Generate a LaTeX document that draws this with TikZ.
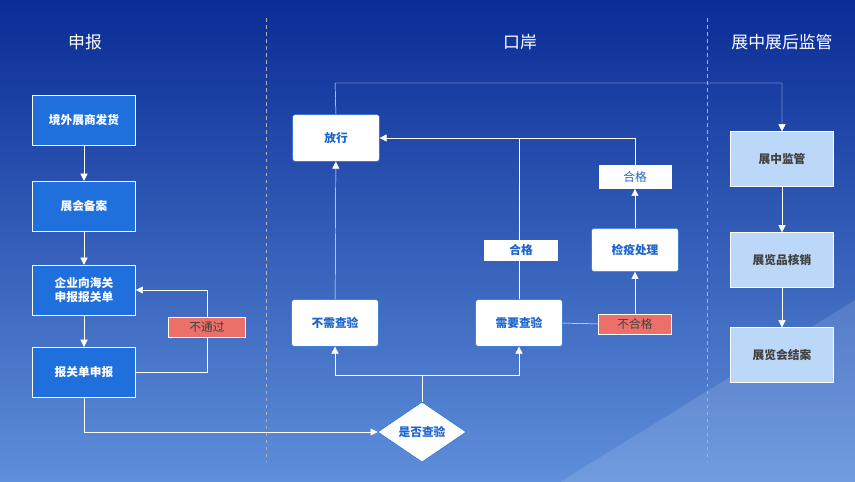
\documentclass[tikz,border=0pt]{standalone}
\usepackage{fontspec}
\setmainfont{Noto Sans CJK SC}
\usetikzlibrary{arrows.meta, positioning, shapes.geometric}
\definecolor{bgtop}{HTML}{0A2C96}
\definecolor{bgbot}{HTML}{5E8FDA}
\definecolor{stepblue}{HTML}{1F6FDC}
\definecolor{lightbox}{HTML}{BCD8F8}
\definecolor{redtag}{HTML}{EC706A}
\definecolor{textblue}{HTML}{1C64D0}

\begin{document}
\begin{tikzpicture}[x=0.03cm,y=-0.03cm,>={Triangle[length=6pt,width=6pt]},
    line/.style={draw=white, thin},
    flow/.style={line, ->}]
    \tikzstyle{stage}=[rectangle, draw=white, fill=stepblue, text=white, font=\bfseries, minimum width=3.1cm, minimum height=1.5cm, align=center, inner sep=1pt]
    \tikzstyle{port}=[rectangle, rounded corners=2pt, draw=stepblue, fill=white, text=textblue, font=\bfseries, minimum width=2.6cm, minimum height=1.4cm]
    \tikzstyle{watch}=[rectangle, draw=white, fill=lightbox, text=black!75, font=\bfseries, minimum width=3.1cm, minimum height=1.65cm]
    \tikzstyle{tag}=[rectangle, draw=white, fill=white, text=textblue, font=\normalsize, minimum width=2.2cm, minimum height=0.6cm, inner sep=0pt]
    \tikzstyle{badtag}=[tag, fill=redtag, text=black!75]
    \tikzstyle{head}=[text=white, font=\Large]

    % background
    \shade[top color=bgtop, bottom color=bgbot] (0,0) rectangle (855,482);
    \fill[white, opacity=.12] (560,482) -- (855,300) -- (855,482) -- cycle;
    \draw[gray!60, dashed] (266,18) -- (266,462);
    \draw[gray!60, dashed] (707,18) -- (707,462);

    \node[head] (h-1) at (85,42) {申报};
    \node[head] (h-2) at (520,42) {口岸};
    \node[head] (h-3) at (782,42) {展中展后监管};

    % declaration
    \node[stage] (S-1) at (84,120) {境外展商发货};
    \node[stage] (S-2) at (84,206) {展会备案};
    \node[stage] (S-3) at (84,290) {企业向海关\\申报报关单};
    \node[stage] (S-4) at (84,372) {报关单申报};
    \foreach \a/\b in {1/2,2/3,3/4}
        \draw[flow] (S-\a) -- (S-\b);
    \coordinate (c-fail) at (207,372);
    \draw[flow] (S-4.east) -- (c-fail) |- (S-3.east);
    \node[badtag, minimum width=2.3cm] (t-fail) at (207,327) {不通过};

    % port
    \node[diamond, draw=stepblue, fill=white, text=textblue, font=\bfseries, minimum width=2.65cm, minimum height=1.8cm, inner sep=0pt] (D) at (422,432) {是否查验};
    \draw[flow] (S-4.south) |- (D.west);
    \node[port] (P-no) at (335,323) {不需查验};
    \node[port] (P-yes) at (519,323) {需要查验};
    \node[port] (P-out) at (336,138) {放行};
    \node[port, minimum height=1.3cm] (P-fix) at (635,250) {检疫处理};
    \coordinate (c-split) at (422,375);
    \draw[line] (D.north) -- (c-split);
    \draw[flow] (c-split) -| (P-no.south);
    \draw[flow] (c-split) -| (P-yes.south);
    \draw[flow] (P-no) -- (P-out);
    \coordinate (c-back) at (635,138);
    \draw[flow] (P-yes.north) |- (P-out.east);
    \node[badtag] (t-bad) at (635,324) {不合格};
    \draw[line] (P-yes.east) -- (t-bad.west);
    \draw[flow] (t-bad.north) -- (P-fix.south);
    \node[tag, minimum width=2.15cm, minimum height=0.7cm] (t-ok2) at (635,177) {合格};
    \draw[flow] (P-fix.north) -- (t-ok2.south);
    \draw[line] (t-ok2.north) -- (c-back) -- (519,138);
    \node[tag, font=\bfseries] (t-ok1) at (521,250) {合格};

    % supervision
    \node[watch] (W-1) at (782,159) {展中监管};
    \node[watch] (W-2) at (782,260) {展览品核销};
    \node[watch] (W-3) at (782,355) {展览会结案};
    \draw[flow] (W-1) -- (W-2);
    \draw[flow] (W-2) -- (W-3);
    \coordinate (c-top) at (335,83);
    \draw[flow] (P-out.north) -- (c-top) -| (W-1.north);
\end{tikzpicture}
\end{document}
